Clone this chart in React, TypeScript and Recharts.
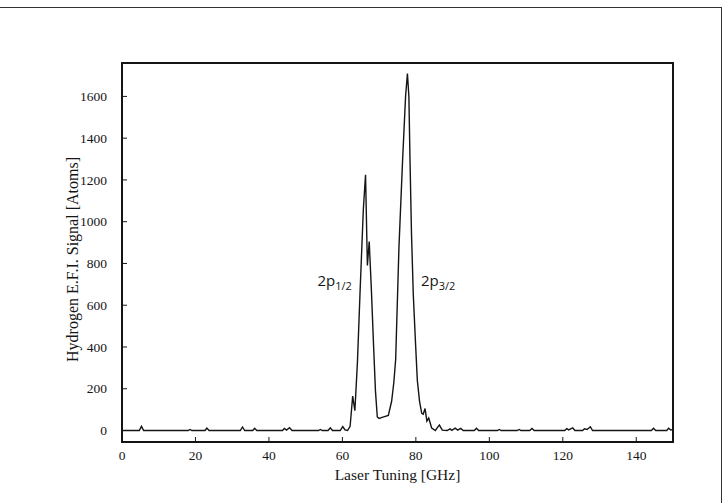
import { Line, LineChart, ReferenceArea, ReferenceDot, XAxis, YAxis } from 'recharts';

// laser detuning in GHz and the E.F.I. hydrogen signal
const tuningGHz = [
  0, 4.7, 5.3, 5.9, 18.0, 18.5, 19.0, 22.6, 23.1, 23.7, 32.2, 32.8, 33.4, 35.6, 36.1, 36.7,
  43.7, 44.2, 44.8, 45.6, 46.3, 53.5, 54.0, 54.5, 56.1, 56.7, 57.3, 59.4, 60.1, 60.7, 61.4,
  62.1, 62.8, 63.4, 64.1, 64.8, 65.7, 66.3, 66.8, 67.3, 67.9, 68.5, 69.0, 69.5, 70.0, 70.8,
  72.5, 73.4, 74.0, 74.5, 75.4, 76.4, 77.2, 77.7, 78.1, 78.4, 78.8, 79.3, 79.9, 80.4, 81.0,
  81.6, 82.0, 82.5, 83.0, 83.5, 84.3, 85.3, 85.9, 86.4, 87.2, 88.5, 89.3, 89.8, 90.7, 91.4,
  92.2, 92.9, 95.9, 96.5, 97.1, 102.2, 102.7, 103.2, 107.6, 108.1, 108.6, 111.0, 111.6, 112.2,
  120.5, 121.1, 121.6, 122.7, 123.3, 125.4, 125.9, 126.6, 127.5, 128.1, 144.1, 144.7, 145.3,
  148.3, 148.8, 149.4, 150,
];
const signalAtoms = [
  0, 0, 20, 0, 0, 5, 0, 0, 12, 0, 0, 17, 0, 0, 11, 0,
  0, 10, 2, 13, 0, 0, 5, 0, 0, 13, 0, 0, 19, 3, 0,
  20, 165, 95, 330, 660, 1060, 1225, 790, 905, 670, 400, 190, 65, 58, 63,
  72, 140, 230, 340, 880, 1300, 1600, 1710, 1600, 1300, 950, 650, 420, 240, 140,
  82, 78, 105, 45, 60, 12, 0, 15, 26, 2, 0, 8, 1, 11, 2,
  10, 0, 0, 11, 0, 0, 5, 0, 0, 5, 0, 0, 10, 0,
  0, 9, 3, 13, 0, 0, 8, 5, 18, 0, 0, 11, 0,
  0, 11, 2, 5,
];

const xTicks = [0, 20, 40, 60, 80, 100, 120, 140];
const yTicks = [0, 200, 400, 600, 800, 1000, 1200, 1400, 1600];

// transition labels placed in data space
const peakLabels = [
  { level: '2p', sub: '1/2', ghz: 53.2, atoms: 690 },
  { level: '2p', sub: '3/2', ghz: 81.4, atoms: 690 },
];

const data = tuningGHz.map((ghz, i) => ({ ghz, signal: signalAtoms[i] }));

const FONT = '"Liberation Serif", "Times New Roman", serif';
const INK = '#151515';
const X_MARGIN = 8;
const Y_MARGIN = 15;

function XTick({ x, y, payload }: any) {
  const axisY = y - X_MARGIN;
  return (
    <g>
      <line x1={x} x2={x} y1={axisY} y2={axisY - 5} stroke={INK} strokeWidth={1} />
      <text x={x} y={y} dy="0.75em" textAnchor="middle" fontFamily={FONT} fontSize={13.5} fill={INK}>
        {payload.value}
      </text>
    </g>
  );
}

function YTick({ x, y, payload }: any) {
  const axisX = x + Y_MARGIN;
  return (
    <g>
      <line x1={axisX} x2={axisX + 5} y1={y} y2={y} stroke={INK} strokeWidth={1} />
      <text x={x} y={y} dy="0.35em" textAnchor="end" fontFamily={FONT} fontSize={13.5} fill={INK}>
        {payload.value}
      </text>
    </g>
  );
}

function PeakLabel({ viewBox, level, sub }: any) {
  if (!viewBox) return null;
  const px = viewBox.cx ?? viewBox.x + (viewBox.width ?? 0) / 2;
  const py = viewBox.cy ?? viewBox.y + (viewBox.height ?? 0) / 2;
  return (
    <text x={px} y={py} fontFamily='"Open Sans", "DejaVu Sans", sans-serif' fontSize={15} fill={INK}>
      <tspan>{level}</tspan>
      <tspan dy={4} fontSize={11}>{sub}</tspan>
    </text>
  );
}

function YLabel({ viewBox }: any) {
  const cx = viewBox.x + 10;
  const cy = viewBox.y + viewBox.height / 2 + 7;
  return (
    <text
      x={cx}
      y={cy}
      transform={`rotate(-90 ${cx} ${cy})`}
      textAnchor="middle"
      dominantBaseline="central"
      fontFamily={FONT}
      fontSize={16}
      fill={INK}
    >
      Hydrogen E.F.I. Signal [Atoms]
    </text>
  );
}

export default function App() {
  return (
    <div style={{ position: 'absolute', left: 0, top: 0, width: 725, height: 503, background: '#fff' }}>
      <div
        style={{
          position: 'absolute',
          left: 0,
          top: 7,
          width: 721,
          height: 496,
          borderTop: '1.5px solid #333',
          borderRight: '1.5px solid #333',
        }}
      />
      <LineChart width={725} height={503} data={data} margin={{ top: 63, right: 52, bottom: 21, left: 62 }}>
        <XAxis
          dataKey="ghz"
          type="number"
          domain={[0, 150]}
          ticks={xTicks}
          allowDataOverflow
          axisLine={false}
          tickLine={false}
          tickSize={0}
          tickMargin={X_MARGIN}
          tick={<XTick />}
          height={40}
          label={{
            value: 'Laser Tuning [GHz]',
            position: 'insideBottom',
            offset: 2,
            fontFamily: FONT,
            fontSize: 15.5,
            fill: INK,
          }}
        />
        <YAxis
          type="number"
          domain={[-55, 1760]}
          ticks={yTicks}
          allowDataOverflow
          axisLine={false}
          tickLine={false}
          tickSize={0}
          tickMargin={Y_MARGIN}
          tick={<YTick />}
          width={60}
          label={{ content: <YLabel /> }}
        />
        <ReferenceArea x1={0} x2={150} y1={-55} y2={1760} fill="none" stroke={INK} strokeWidth={2} />
        <Line
          type="linear"
          dataKey="signal"
          stroke={INK}
          strokeWidth={1.4}
          dot={false}
          isAnimationActive={false}
        />
        {peakLabels.map((p) => (
          <ReferenceDot
            key={p.sub}
            x={p.ghz}
            y={p.atoms}
            r={1}
            fill="none"
            stroke="none"
            label={<PeakLabel level={p.level} sub={p.sub} />}
          />
        ))}
      </LineChart>
    </div>
  );
}
